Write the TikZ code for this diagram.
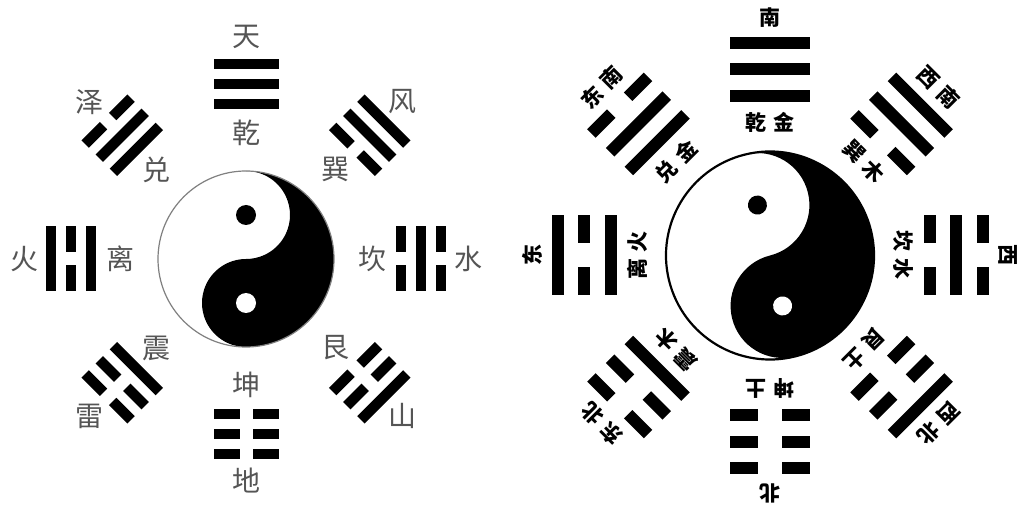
\documentclass[tikz,border=0pt]{standalone}
\usepackage{fontspec}
\newfontfamily\cjk{Noto Sans CJK SC}
\usetikzlibrary{calc}
\definecolor{lgray}{HTML}{555555}
\tikzset{
  ltext/.style={font=\cjk\fontsize{28}{28}\selectfont, text=lgray, inner sep=0pt},
  rtext/.style={font=\cjk\bfseries\fontsize{21}{21}\selectfont, text=black, inner sep=0pt},
  barfill/.style={fill=black},
}
\newcommand{\trbar}[2]{%
  \ifnum#2=1\relax
    \fill[barfill] (-\trL/2,#1-\trT/2) rectangle (\trL/2,#1+\trT/2);
  \else
    \fill[barfill] (-\trL/2,#1-\trT/2) rectangle (-\trL/2+\trP,#1+\trT/2);
    \fill[barfill] (\trL/2-\trP,#1-\trT/2) rectangle (\trL/2,#1+\trT/2);
  \fi}
\newcommand{\trigram}[5]{%
  \begin{scope}[shift={(#1)}]
  \begin{scope}[shift={(#2:\trR)}, rotate=#2-90]
   \trbar{-\trS}{#3}\trbar{0}{#4}\trbar{\trS}{#5}
  \end{scope}\end{scope}}
\newcommand{\yinyang}[5]{%
  \begin{scope}[shift={(#1)}, rotate=#3]
   \fill[white] (0,0) circle (#2);
   \fill[black] (0,#2) arc[start angle=90,end angle=-90,radius=#2]
      arc[start angle=-90,end angle=-270,radius=#2/2]
      arc[start angle=-90,end angle=90,radius=#2/2] -- cycle;
   \fill[black] (0,#2/2) circle (#4);
   \fill[white] (0,-#2/2) circle (#4);
   \draw[#5] (0,0) circle (#2);
  \end{scope}}
\begin{document}
\begin{tikzpicture}[x=1pt,y=1pt]
\useasboundingbox (0,0) rectangle (1019,506);
\fill[white] (0,0) rectangle (1019,506);
\coordinate (C1) at (246,247);
\coordinate (C2) at (770,250.5);
% ---------- left diagram ----------
\yinyang{C1}{88}{0}{10}{draw=gray, line width=1.2pt}
\def\trL{65}\def\trT{10.5}\def\trS{20}\def\trP{26}\def\trR{175}
\foreach \a/\p/\q/\r in {90/1/1/1,135/1/1/0,180/1/0/1,225/1/0/0,270/0/0/0,315/0/0/1,0/0/1/0,45/0/1/1}{
  \trigram{C1}{\a}{\p}{\q}{\r}
}
\foreach \a/\ti/\to [count=\k] in {90/乾/天,135/兑/泽,180/离/火,225/震/雷,270/坤/地,315/艮/山,0/坎/水,45/巽/风}{
  \node[ltext] (li\k) at ($(C1)+(\a:126)$) {\ti};
  \node[ltext] (lo\k) at ($(C1)+(\a:222)$) {\to};
}
% ---------- right diagram ----------
\yinyang{C2}{104}{14}{9.5}{draw=black, line width=2.2pt}
\def\trL{80}\def\trT{12}\def\trS{26.5}\def\trP{28}\def\trR{186}
\foreach \a/\p/\q/\r in {90/1/1/1,135/1/1/0,180/1/0/1,225/1/0/0,270/0/0/0,315/0/0/1,0/0/1/0,45/0/1/1}{
  \trigram{C2}{\a}{\p}{\q}{\r}
}
\foreach \a/\ti/\to [count=\k] in {90/乾\kern7pt金/南,135/兑\kern7pt金/东\kern7pt南,180/离\kern7pt火/东,225/震\kern7pt木/东\kern7pt北,270/坤\kern7pt土/北,315/艮\kern7pt土/西\kern7pt北,0/坎\kern7pt水/西,45/巽\kern7pt木/西\kern7pt南}{
  \node[rtext, rotate=\a-90] (ri\k) at ($(C2)+(\a:133)$) {\ti};
  \node[rtext, rotate=\a-90] (ro\k) at ($(C2)+(\a:238)$) {\to};
}
\end{tikzpicture}
\end{document}
